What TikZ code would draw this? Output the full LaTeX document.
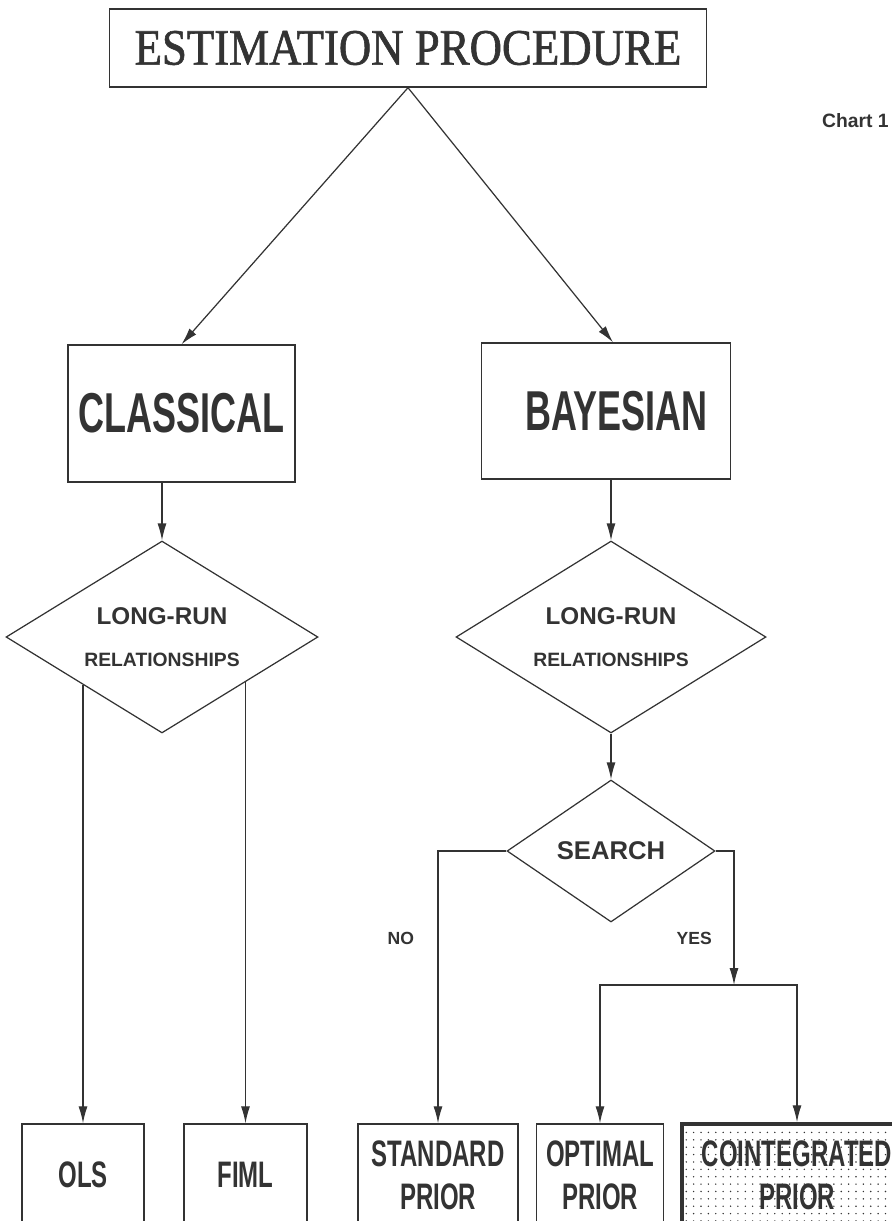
\documentclass[tikz,border=0pt]{standalone}
\usepackage{fontspec}
\setsansfont{Liberation Sans}
\newfontfamily\titlefont[FakeStretch=0.88, FakeBold=1.2]{Liberation Serif}
\newfontfamily\condfont[FakeStretch=0.64]{Liberation Sans}
\newfontfamily\leaffont[FakeStretch=0.65]{Liberation Sans}
\usetikzlibrary{shapes.geometric, arrows.meta, patterns.meta, positioning}
\definecolor{ink}{HTML}{333333}
\tikzset{
  >={Latex[length=3.4mm, width=1.8mm]},
  every node/.style={text=ink},
  box/.style={draw=ink, line width=0.8pt, inner sep=0pt},
  school/.style={box, font=\condfont\bfseries\fontsize{32}{36}\selectfont},
  decision/.style={diamond, draw=ink, line width=0.7pt, aspect=1.6, inner sep=0pt,
    align=center, font=\sffamily\bfseries},
  leaf/.style={box, minimum height=2.04cm, align=center,
    font=\leaffont\bfseries\fontsize{21}{24.4}\selectfont},
  flow/.style={draw=ink, line width=0.7pt, ->},
  answer/.style={font=\sffamily\bfseries\fontsize{10}{12}\selectfont},
}

\begin{document}
\begin{tikzpicture}[x=0.02cm, y=-0.02cm]
  \useasboundingbox (0,0) rectangle (892,1221);

  % heading
  \node[box, minimum width=11.94cm, minimum height=1.56cm,
        font=\titlefont\fontsize{29}{30}\selectfont] (title) at (408,48) {ESTIMATION PROCEDURE};
  \node[anchor=east, inner sep=0pt, font=\sffamily\bfseries\fontsize{11}{13}\selectfont] (chart) at (889,121) {Chart 1};

  % schools
  \node[school, minimum width=4.54cm, minimum height=2.74cm] (classical) at (181.5,413.5) {CLASSICAL};
  \node[school, minimum width=4.98cm, minimum height=2.72cm] (bayesian) at (606,411) {\hspace{12pt}BAYESIAN};

  % decisions
  \node[decision, minimum width=6.24cm, minimum height=3.84cm] (lrclass) at (162,637)
    {{\fontsize{13.8}{16}\selectfont LONG-RUN}\\[12pt]{\fontsize{11}{13}\selectfont RELATIONSHIPS}};
  \node[decision, minimum width=6.2cm, minimum height=3.84cm] (lrbayes) at (611,637)
    {{\fontsize{13.8}{16}\selectfont LONG-RUN}\\[12pt]{\fontsize{11}{13}\selectfont RELATIONSHIPS}};
  \node[decision, minimum width=4.16cm, minimum height=2.84cm,
        font=\sffamily\bfseries\fontsize{14.6}{17}\selectfont] (search) at (611,851) {SEARCH};

  % estimators
  \node[leaf, minimum width=2.44cm] (ols) at (83,1175) {OLS};
  \node[leaf, minimum width=2.46cm] (fiml) at (245.5,1175) {FIML};
  \node[leaf, minimum width=3.2cm] (standard) at (438,1175) {STANDARD\\PRIOR};
  \node[leaf, minimum width=2.54cm] (optimal) at (600,1175) {OPTIMAL\\PRIOR};
  \node[leaf, minimum width=4.6cm, line width=2pt,
        pattern={Dots[distance=4.2pt, radius=0.45pt]}, pattern color=ink] (coint) at (797,1175) {COINTEGRATED\\PRIOR};

  % arrows
  \draw[flow] (title.south) -- (classical.north);
  \draw[flow] (title.south) -- ([xshift=0.14cm]bayesian.north);
  \draw[flow] (classical.south -| lrclass.north) -- (lrclass.north);
  \draw[flow] (bayesian.south -| lrbayes.north) -- (lrbayes.north);
  \draw[flow] (lrbayes.south) -- (search.north);
  \draw[flow] (ols.north |- lrclass.211) -- (ols.north);
  \draw[flow] (fiml.north |- lrclass.332) -- (fiml.north);
  \draw[flow] (search.west) -| node[answer, pos=0.66, left=10pt] {NO} (standard.north);

  \coordinate (split) at (734,985);
  \draw[flow] (search.east) -| node[answer, pos=0.825, left=9pt] {YES} (split);
  \draw[flow] (split) -| (optimal.north);
  \draw[flow] (split) -| (coint.north);
\end{tikzpicture}
\end{document}
